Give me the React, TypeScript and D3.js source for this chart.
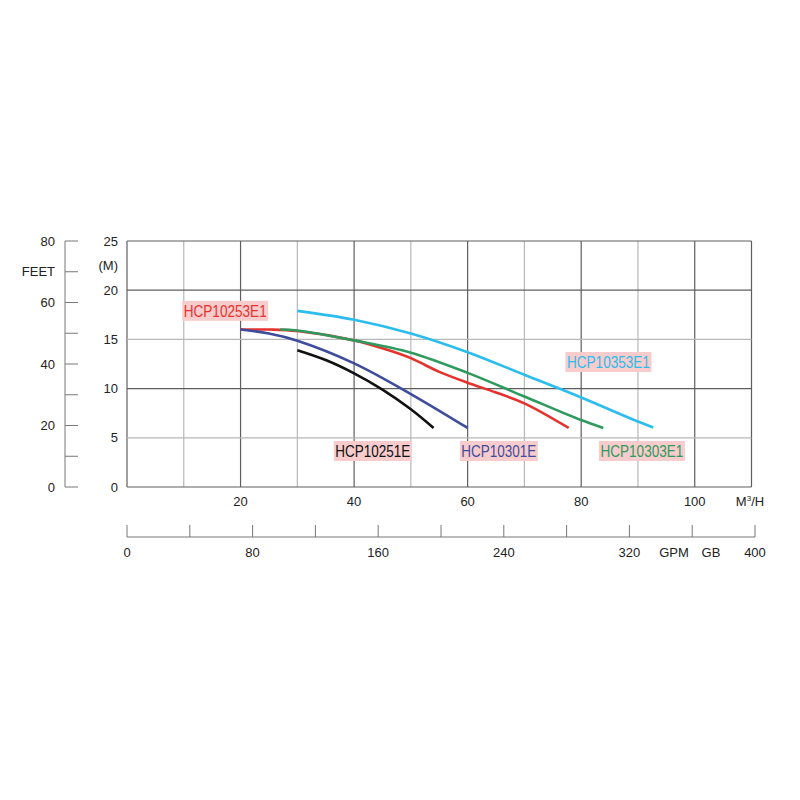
import { scaleLinear, line, curveCatmullRom, range } from "d3";

const width = 800;
const height = 800;

// pump curves: flow (m3/h) vs head (m)
const cyanFlow = [30, 40, 50, 60, 70, 80, 90, 92.7];
const cyanHead = [17.9, 17.0, 15.6, 13.7, 11.4, 9.1, 6.65, 6.05];
const redFlow = [20, 25, 30, 40, 45, 50, 52.5, 55, 60, 65, 70, 77.8];
const redHead = [16, 16, 15.85, 14.9, 14.1, 13.1, 12.4, 11.7, 10.6, 9.6, 8.5, 6.0];
const greenFlow = [27, 30, 40, 50, 60, 70, 80, 83.9];
const greenHead = [16, 15.9, 14.9, 13.65, 11.6, 9.2, 6.8, 6.0];
const blueFlow = [20, 25, 30, 40, 50, 60];
const blueHead = [16, 15.6, 14.87, 12.57, 9.45, 6.0];
const blackFlow = [30, 35, 40, 45, 50, 54];
const blackHead = [13.9, 12.9, 11.55, 9.9, 7.9, 6.0];

const seriesNames = ["HCP10353E1", "HCP10253E1", "HCP10303E1", "HCP10301E", "HCP10251E"];
const seriesColors = ["#2bbdee", "#e5322d", "#2f9a5e", "#3e4c9c", "#111111"];
const seriesFlows = [cyanFlow, redFlow, greenFlow, blueFlow, blackFlow];
const seriesHeads = [cyanHead, redHead, greenHead, blueHead, blackHead];
// label anchors in chart units (flow, head)
const labelFlow = [84.8, 17.3, 90.7, 65.5, 43.3];
const labelHead = [12.7, 17.9, 3.66, 3.66, 3.66];

const meterTicks = [0, 5, 10, 15, 20, 25];
const feetTicks = [0, 20, 40, 60, 80];
const flowTicks = [20, 40, 60, 80, 100];
const gpmTicks = [0, 80, 160, 240, 320, 400];

const x = scaleLinear().domain([0, 110]).range([127, 751.5]);
const y = scaleLinear().domain([0, 25]).range([487, 241]);
const yFeet = scaleLinear().domain([0, 80]).range([487, 241]);
const xGpm = scaleLinear().domain([0, 400]).range([127, 755]);

const dark = "#5e5e5e";
const light = "#b8b8b8";
const font = "'Liberation Sans', Arial, sans-serif";
const labelFont = "'Liberation Sans Narrow', 'Liberation Sans', Arial, sans-serif";

const curve = (fl: number[], hd: number[]) =>
  line<number>()
    .x((i) => x(fl[i]))
    .y((i) => y(hd[i]))
    .curve(curveCatmullRom.alpha(0.5))(fl.map((_, i) => i)) ?? "";

const App = () => {
  const gpmY = 537;

  return (
    <svg
      width={width}
      height={height}
      style={{ position: "absolute", left: 0, top: 0, background: "#fff" }}
      fontFamily={font}
    >
      {/* vertical grid */}
      {range(0, 111, 10).map((v) => (
        <line
          key={"vx" + v}
          x1={x(v)}
          x2={x(v)}
          y1={y(0)}
          y2={y(25)}
          stroke={v % 20 === 0 || v === 110 ? dark : light}
          strokeWidth={1.2}
        />
      ))}
      {/* horizontal grid */}
      {meterTicks.map((v) => (
        <line
          key={"hy" + v}
          x1={x(0)}
          x2={x(110)}
          y1={y(v)}
          y2={y(v)}
          stroke={v % 10 === 0 || v === 25 ? dark : light}
          strokeWidth={1.2}
        />
      ))}

      {/* meter labels */}
      {meterTicks.map((v) => (
        <text key={"ml" + v} x={118} y={y(v)} dy="0.35em" textAnchor="end" fontSize={13} fill="#222">
          {v}
        </text>
      ))}
      <text x={118} y={265} dy="0.35em" textAnchor="end" fontSize={13} fill="#222">
        (M)
      </text>

      {/* feet axis */}
      <line x1={65} x2={65} y1={yFeet(0)} y2={yFeet(80)} stroke="#777" />
      {range(0, 81, 10).map((v) => (
        <line key={"ft" + v} x1={65} x2={78} y1={yFeet(v)} y2={yFeet(v)} stroke="#777" />
      ))}
      {feetTicks.map((v) => (
        <text key={"fl" + v} x={55} y={yFeet(v)} dy="0.35em" textAnchor="end" fontSize={13} fill="#222">
          {v}
        </text>
      ))}
      <text x={55} y={yFeet(70)} dy="0.35em" textAnchor="end" fontSize={13} fill="#222">
        FEET
      </text>

      {/* flow labels */}
      {flowTicks.map((v) => (
        <text key={"xl" + v} x={x(v)} y={501} dy="0.35em" textAnchor="middle" fontSize={13} fill="#222">
          {v}
        </text>
      ))}
      <text x={750} y={501} dy="0.35em" textAnchor="middle" fontSize={13} fill="#222">
        M<tspan dy="-5" fontSize={8}>3</tspan>
        <tspan dy="5">/H</tspan>
      </text>

      {/* GPM axis */}
      <line x1={xGpm(0)} x2={xGpm(400)} y1={gpmY} y2={gpmY} stroke="#777" />
      {range(0, 401, 40).map((v) => (
        <line key={"gt" + v} x1={xGpm(v)} x2={xGpm(v)} y1={gpmY - 12} y2={gpmY} stroke="#777" />
      ))}
      {gpmTicks.map((v) => (
        <text key={"gl" + v} x={xGpm(v)} y={552} dy="0.35em" textAnchor="middle" fontSize={13} fill="#222">
          {v}
        </text>
      ))}
      <text x={674} y={552} dy="0.35em" textAnchor="middle" fontSize={13} fill="#222">
        GPM
      </text>
      <text x={711} y={552} dy="0.35em" textAnchor="middle" fontSize={13} fill="#222">
        GB
      </text>

      {/* curves */}
      {seriesNames.map((n, i) => (
        <path
          key={"c" + n}
          d={curve(seriesFlows[i], seriesHeads[i])}
          fill="none"
          stroke={seriesColors[i]}
          strokeWidth={2.6}
        />
      ))}

      {/* labels */}
      {seriesNames.map((n, i) => {
        const w = n.length === 10 ? 86 : 78;
        const cx = x(labelFlow[i]);
        const cy = y(labelHead[i]);
        return (
          <g key={"l" + n}>
            <rect x={cx - w / 2} y={cy - 10} width={w} height={20} fill="#f8cbcc" />
            <text
              x={cx}
              y={cy}
              dy="0.36em"
              textAnchor="middle"
              fontSize={17}
              fontFamily={labelFont}
              fill={seriesColors[i]}
              textLength={w - 3}
              lengthAdjust="spacingAndGlyphs"
            >
              {n}
            </text>
          </g>
        );
      })}
    </svg>
  );
};

export default App;
